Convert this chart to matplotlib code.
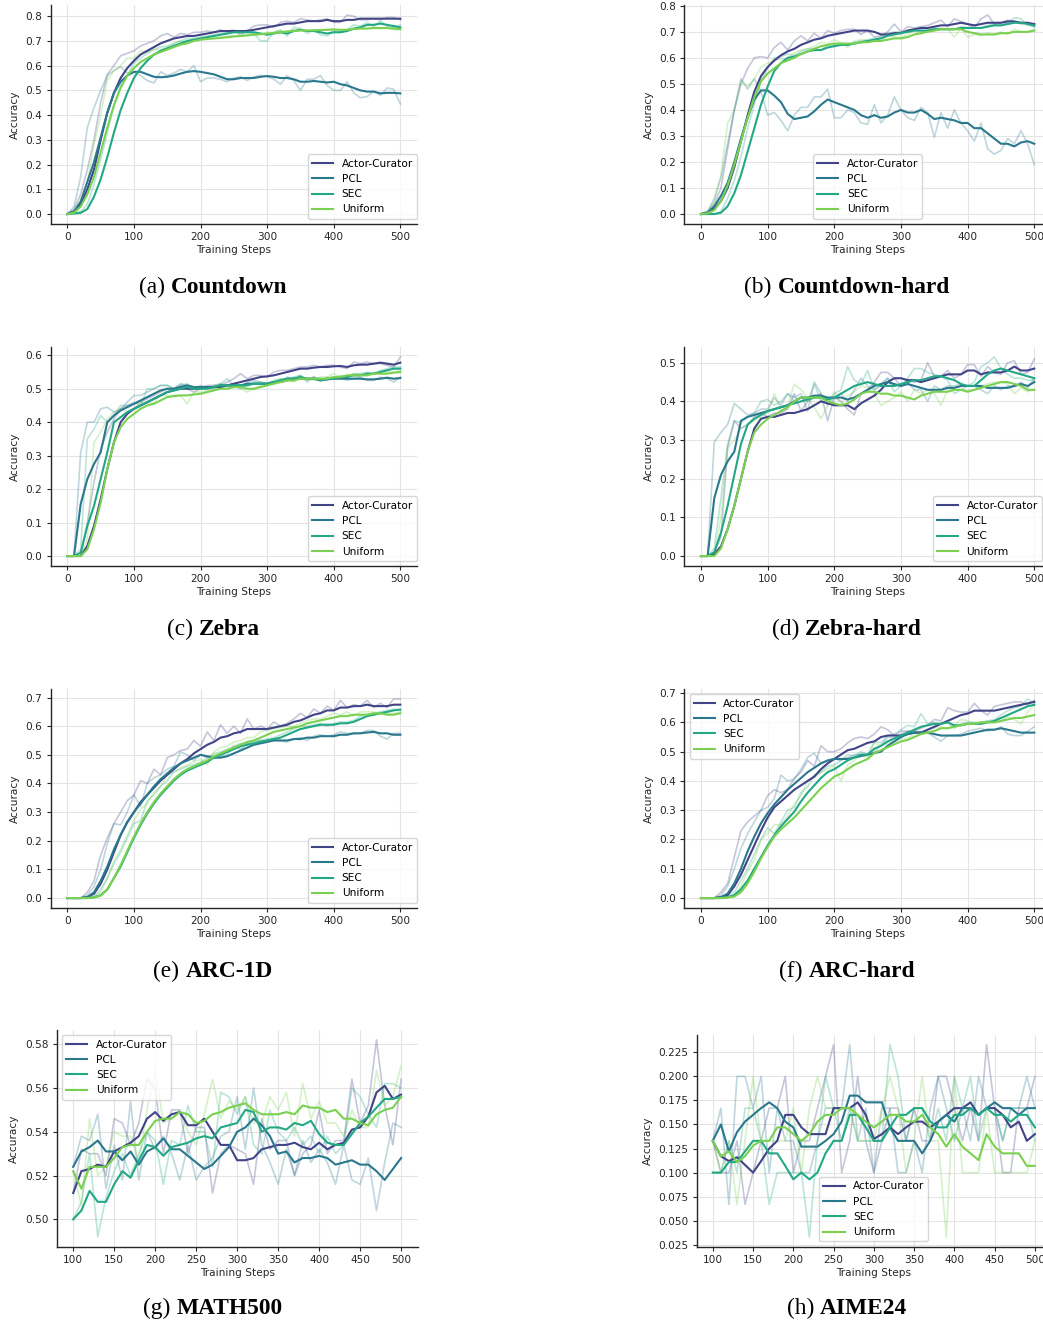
import numpy as np
import matplotlib
matplotlib.use('Agg')
import matplotlib.pyplot as plt
from matplotlib.offsetbox import TextArea, HPacker, AnchoredOffsetbox

W, H = 1043, 1321

methods = ['Actor-Curator', 'PCL', 'SEC', 'Uniform']
colors = ['#414487', '#2a788e', '#22a884', '#7ad151']

steps = np.arange(0, 501, 10)
eval_steps = np.arange(100, 501, 10)

# (a) Countdown
cd_ac_raw = [0.00, 0.02, 0.08, 0.18, 0.30, 0.45, 0.565, 0.60, 0.64, 0.65,
             0.66, 0.68, 0.69, 0.70, 0.72, 0.73, 0.715, 0.73, 0.725, 0.735,
             0.735, 0.74, 0.735, 0.745, 0.735, 0.74, 0.73, 0.74, 0.76, 0.765,
             0.765, 0.755, 0.775, 0.78, 0.775, 0.79, 0.785, 0.78, 0.785, 0.79,
             0.775, 0.775, 0.805, 0.80, 0.785, 0.785, 0.79, 0.785, 0.795, 0.795,
             0.785]
cd_ac_sm = [0.00, 0.01, 0.04, 0.10, 0.18, 0.30, 0.41, 0.49, 0.55, 0.59,
            0.62, 0.645, 0.66, 0.675, 0.69, 0.70, 0.71, 0.715, 0.72, 0.72,
            0.725, 0.73, 0.735, 0.74, 0.74, 0.74, 0.74, 0.74, 0.745, 0.75,
            0.755, 0.76, 0.765, 0.77, 0.77, 0.775, 0.78, 0.78, 0.78, 0.785,
            0.78, 0.78, 0.785, 0.785, 0.79, 0.79, 0.79, 0.79, 0.79, 0.79,
            0.79]
cd_pcl_raw = [0.00, 0.03, 0.15, 0.35, 0.43, 0.50, 0.56, 0.58, 0.595, 0.57,
              0.575, 0.56, 0.54, 0.53, 0.575, 0.56, 0.57, 0.585, 0.575, 0.60,
              0.535, 0.55, 0.55, 0.545, 0.535, 0.55, 0.555, 0.54, 0.555, 0.56,
              0.555, 0.545, 0.525, 0.56, 0.54, 0.50, 0.545, 0.545, 0.56, 0.52,
              0.50, 0.50, 0.535, 0.49, 0.47, 0.475, 0.495, 0.48, 0.51, 0.505,
              0.445]
cd_pcl_sm = [0.00, 0.01, 0.05, 0.13, 0.21, 0.31, 0.41, 0.49, 0.535, 0.56,
             0.575, 0.575, 0.565, 0.555, 0.553, 0.555, 0.56, 0.568, 0.575, 0.578,
             0.575, 0.57, 0.565, 0.555, 0.545, 0.545, 0.55, 0.55, 0.55, 0.555,
             0.558, 0.555, 0.55, 0.55, 0.545, 0.535, 0.535, 0.538, 0.535, 0.532,
             0.535, 0.525, 0.52, 0.51, 0.50, 0.495, 0.495, 0.488, 0.49, 0.49,
             0.488]
cd_sec_raw = [0.00, 0.004, 0.01, 0.04, 0.12, 0.22, 0.33, 0.44, 0.52, 0.56,
              0.61, 0.63, 0.65, 0.665, 0.675, 0.68, 0.69, 0.70, 0.71, 0.71,
              0.715, 0.72, 0.725, 0.73, 0.74, 0.745, 0.72, 0.745, 0.73, 0.70,
              0.70, 0.735, 0.745, 0.72, 0.755, 0.75, 0.73, 0.745, 0.725, 0.72,
              0.74, 0.735, 0.745, 0.765, 0.76, 0.775, 0.76, 0.78, 0.76, 0.755,
              0.765]
cd_sec_sm = [0.00, 0.002, 0.005, 0.02, 0.07, 0.14, 0.23, 0.33, 0.42, 0.49,
             0.55, 0.59, 0.62, 0.645, 0.66, 0.67, 0.68, 0.69, 0.70, 0.705,
             0.71, 0.715, 0.72, 0.725, 0.73, 0.735, 0.735, 0.735, 0.735, 0.73,
             0.725, 0.73, 0.735, 0.73, 0.74, 0.745, 0.74, 0.74, 0.735, 0.73,
             0.735, 0.735, 0.74, 0.75, 0.755, 0.765, 0.765, 0.77, 0.765, 0.76,
             0.755]
cd_uni_raw = [0.00, 0.01, 0.06, 0.13, 0.28, 0.40, 0.54, 0.58, 0.60, 0.63,
              0.63, 0.66, 0.655, 0.665, 0.665, 0.675, 0.69, 0.70, 0.695, 0.705,
              0.71, 0.71, 0.71, 0.715, 0.72, 0.72, 0.72, 0.725, 0.73, 0.73,
              0.735, 0.735, 0.74, 0.74, 0.745, 0.745, 0.74, 0.745, 0.745, 0.745,
              0.75, 0.74, 0.745, 0.75, 0.75, 0.75, 0.755, 0.75, 0.755, 0.745,
              0.745]
cd_uni_sm = [0.00, 0.005, 0.03, 0.08, 0.15, 0.25, 0.35, 0.44, 0.51, 0.56,
             0.59, 0.615, 0.63, 0.645, 0.655, 0.665, 0.675, 0.685, 0.69, 0.70,
             0.705, 0.708, 0.71, 0.712, 0.715, 0.718, 0.72, 0.722, 0.725, 0.727,
             0.73, 0.732, 0.735, 0.738, 0.74, 0.742, 0.742, 0.743, 0.744, 0.745,
             0.746, 0.745, 0.745, 0.748, 0.75, 0.75, 0.752, 0.752, 0.752, 0.75,
             0.748]

# (b) Countdown-hard
cdh_ac_raw = [0.00, 0.01, 0.04, 0.10, 0.25, 0.40, 0.50, 0.56, 0.60, 0.605,
              0.60, 0.64, 0.66, 0.63, 0.665, 0.685, 0.665, 0.695, 0.675, 0.705,
              0.695, 0.705, 0.71, 0.71, 0.69, 0.705, 0.68, 0.685, 0.70, 0.73,
              0.70, 0.72, 0.715, 0.72, 0.725, 0.735, 0.745, 0.72, 0.75, 0.74,
              0.73, 0.715, 0.75, 0.765, 0.73, 0.735, 0.745, 0.74, 0.73, 0.735,
              0.72]
cdh_ac_sm = [0.00, 0.005, 0.02, 0.05, 0.10, 0.18, 0.28, 0.38, 0.47, 0.53,
             0.565, 0.59, 0.61, 0.625, 0.635, 0.65, 0.66, 0.67, 0.675, 0.685,
             0.69, 0.695, 0.70, 0.705, 0.705, 0.705, 0.70, 0.69, 0.69, 0.695,
             0.695, 0.705, 0.71, 0.715, 0.715, 0.72, 0.725, 0.725, 0.73, 0.735,
             0.73, 0.725, 0.73, 0.735, 0.735, 0.735, 0.74, 0.74, 0.735, 0.735,
             0.73]
cdh_pcl_raw = [0.00, 0.01, 0.06, 0.14, 0.27, 0.40, 0.52, 0.48, 0.52, 0.47,
               0.38, 0.39, 0.36, 0.32, 0.38, 0.41, 0.41, 0.45, 0.45, 0.48,
               0.37, 0.37, 0.40, 0.39, 0.35, 0.345, 0.42, 0.35, 0.38, 0.45,
               0.40, 0.37, 0.36, 0.41, 0.39, 0.295, 0.39, 0.33, 0.40, 0.35,
               0.32, 0.28, 0.35, 0.25, 0.23, 0.245, 0.29, 0.27, 0.32, 0.27,
               0.19]
cdh_pcl_sm = [0.00, 0.005, 0.03, 0.07, 0.12, 0.20, 0.29, 0.37, 0.44, 0.475,
              0.475, 0.455, 0.43, 0.385, 0.365, 0.37, 0.375, 0.395, 0.42, 0.44,
              0.43, 0.42, 0.41, 0.40, 0.38, 0.37, 0.38, 0.37, 0.375, 0.39,
              0.40, 0.39, 0.39, 0.40, 0.385, 0.365, 0.37, 0.365, 0.36, 0.35,
              0.35, 0.33, 0.33, 0.31, 0.29, 0.27, 0.27, 0.26, 0.275, 0.28,
              0.27]
cdh_sec_raw = [0.00, 0.00, 0.00, 0.01, 0.06, 0.13, 0.22, 0.33, 0.42, 0.51,
               0.56, 0.60, 0.605, 0.615, 0.61, 0.625, 0.635, 0.635, 0.63, 0.65,
               0.65, 0.655, 0.65, 0.66, 0.665, 0.67, 0.675, 0.68, 0.695, 0.70,
               0.70, 0.705, 0.71, 0.70, 0.705, 0.715, 0.71, 0.71, 0.71, 0.72,
               0.715, 0.715, 0.715, 0.725, 0.73, 0.725, 0.735, 0.755, 0.75, 0.725,
               0.72]
cdh_sec_sm = [0.00, 0.00, 0.00, 0.005, 0.03, 0.08, 0.15, 0.24, 0.33, 0.42,
              0.49, 0.55, 0.58, 0.60, 0.605, 0.615, 0.625, 0.63, 0.63, 0.64,
              0.645, 0.65, 0.65, 0.655, 0.66, 0.665, 0.67, 0.675, 0.685, 0.69,
              0.695, 0.70, 0.705, 0.705, 0.705, 0.71, 0.71, 0.71, 0.71, 0.715,
              0.715, 0.715, 0.715, 0.72, 0.725, 0.725, 0.73, 0.735, 0.735, 0.73,
              0.725]
cdh_uni_raw = [0.00, 0.01, 0.05, 0.15, 0.35, 0.40, 0.51, 0.49, 0.52, 0.565,
               0.58, 0.59, 0.595, 0.60, 0.62, 0.63, 0.635, 0.645, 0.66, 0.655,
               0.67, 0.66, 0.64, 0.665, 0.67, 0.665, 0.67, 0.665, 0.685, 0.68,
               0.68, 0.69, 0.705, 0.69, 0.71, 0.71, 0.715, 0.71, 0.68, 0.715,
               0.68, 0.69, 0.685, 0.695, 0.69, 0.70, 0.69, 0.71, 0.70, 0.70,
               0.71]
cdh_uni_sm = [0.00, 0.003, 0.015, 0.05, 0.11, 0.19, 0.28, 0.37, 0.45, 0.51,
              0.54, 0.56, 0.58, 0.59, 0.60, 0.615, 0.625, 0.635, 0.645, 0.65,
              0.655, 0.655, 0.655, 0.655, 0.66, 0.66, 0.665, 0.665, 0.67, 0.675,
              0.675, 0.68, 0.69, 0.695, 0.70, 0.705, 0.71, 0.71, 0.71, 0.71,
              0.70, 0.695, 0.69, 0.69, 0.69, 0.695, 0.695, 0.70, 0.70, 0.70,
              0.705]

# (c) Zebra
zb_ac_raw = [0.00, 0.00, 0.00, 0.10, 0.22, 0.32, 0.37, 0.41, 0.44, 0.45,
             0.455, 0.46, 0.47, 0.48, 0.49, 0.50, 0.50, 0.51, 0.50, 0.49,
             0.50, 0.51, 0.51, 0.51, 0.52, 0.53, 0.545, 0.53, 0.54, 0.54,
             0.535, 0.55, 0.555, 0.555, 0.56, 0.565, 0.565, 0.57, 0.565, 0.57,
             0.57, 0.565, 0.56, 0.58, 0.575, 0.58, 0.575, 0.575, 0.57, 0.565,
             0.595]
zb_ac_sm = [0.00, 0.00, 0.00, 0.03, 0.09, 0.17, 0.26, 0.34, 0.40, 0.425,
            0.44, 0.45, 0.46, 0.47, 0.48, 0.49, 0.495, 0.50, 0.50, 0.50,
            0.50, 0.505, 0.505, 0.505, 0.51, 0.515, 0.52, 0.525, 0.53, 0.535,
            0.537, 0.54, 0.545, 0.55, 0.555, 0.56, 0.56, 0.563, 0.565, 0.565,
            0.567, 0.568, 0.565, 0.57, 0.572, 0.572, 0.575, 0.578, 0.575, 0.572,
            0.578]
zb_pcl_raw = [0.00, 0.00, 0.31, 0.40, 0.40, 0.44, 0.445, 0.43, 0.44, 0.46,
              0.48, 0.48, 0.49, 0.50, 0.51, 0.51, 0.50, 0.515, 0.51, 0.50,
              0.51, 0.505, 0.50, 0.515, 0.51, 0.51, 0.50, 0.52, 0.525, 0.52,
              0.515, 0.52, 0.52, 0.535, 0.53, 0.54, 0.525, 0.535, 0.53, 0.525,
              0.535, 0.535, 0.525, 0.53, 0.535, 0.525, 0.525, 0.535, 0.53, 0.52,
              0.535]
zb_pcl_sm = [0.00, 0.00, 0.155, 0.23, 0.275, 0.31, 0.40, 0.42, 0.435, 0.445,
             0.455, 0.465, 0.475, 0.485, 0.495, 0.50, 0.50, 0.505, 0.51, 0.505,
             0.505, 0.505, 0.505, 0.51, 0.51, 0.51, 0.51, 0.515, 0.515, 0.515,
             0.515, 0.52, 0.52, 0.525, 0.53, 0.53, 0.53, 0.53, 0.525, 0.528,
             0.53, 0.53, 0.53, 0.53, 0.53, 0.528, 0.528, 0.53, 0.533, 0.53,
             0.532]
zb_sec_raw = [0.00, 0.00, 0.02, 0.35, 0.38, 0.42, 0.40, 0.42, 0.45, 0.45,
              0.46, 0.45, 0.50, 0.50, 0.51, 0.51, 0.50, 0.51, 0.515, 0.50,
              0.505, 0.50, 0.51, 0.515, 0.53, 0.51, 0.505, 0.51, 0.52, 0.52,
              0.515, 0.525, 0.53, 0.53, 0.535, 0.54, 0.52, 0.535, 0.525, 0.535,
              0.53, 0.54, 0.535, 0.545, 0.545, 0.55, 0.545, 0.555, 0.56, 0.565,
              0.565]
zb_sec_sm = [0.00, 0.00, 0.01, 0.09, 0.15, 0.23, 0.31, 0.40, 0.415, 0.43,
             0.44, 0.45, 0.46, 0.47, 0.48, 0.49, 0.495, 0.50, 0.505, 0.50,
             0.50, 0.50, 0.505, 0.51, 0.51, 0.51, 0.51, 0.51, 0.515, 0.515,
             0.515, 0.52, 0.525, 0.53, 0.53, 0.535, 0.53, 0.53, 0.525, 0.53,
             0.53, 0.535, 0.535, 0.54, 0.54, 0.545, 0.545, 0.55, 0.555, 0.56,
             0.56]
zb_uni_raw = [0.00, 0.00, 0.00, 0.05, 0.34, 0.37, 0.41, 0.43, 0.44, 0.43,
              0.44, 0.46, 0.455, 0.46, 0.48, 0.48, 0.48, 0.48, 0.455, 0.49,
              0.49, 0.495, 0.50, 0.505, 0.50, 0.51, 0.50, 0.49, 0.50, 0.51,
              0.515, 0.52, 0.53, 0.525, 0.52, 0.535, 0.53, 0.525, 0.535, 0.535,
              0.545, 0.535, 0.54, 0.545, 0.545, 0.54, 0.55, 0.545, 0.55, 0.55,
              0.555]
zb_uni_sm = [0.00, 0.00, 0.00, 0.02, 0.08, 0.16, 0.26, 0.34, 0.385, 0.41,
             0.425, 0.44, 0.45, 0.455, 0.465, 0.475, 0.478, 0.48, 0.48, 0.483,
             0.485, 0.49, 0.495, 0.50, 0.50, 0.505, 0.505, 0.50, 0.50, 0.505,
             0.51, 0.515, 0.52, 0.525, 0.525, 0.53, 0.53, 0.53, 0.53, 0.53,
             0.535, 0.535, 0.54, 0.54, 0.54, 0.54, 0.545, 0.545, 0.545, 0.548,
             0.55]

# (d) Zebra-hard
zbh_ac_raw = [0.00, 0.00, 0.01, 0.05, 0.28, 0.35, 0.33, 0.34, 0.36, 0.37,
              0.36, 0.37, 0.37, 0.38, 0.42, 0.375, 0.40, 0.41, 0.42, 0.35,
              0.41, 0.40, 0.38, 0.365, 0.42, 0.43, 0.45, 0.475, 0.475, 0.46,
              0.44, 0.455, 0.45, 0.455, 0.50, 0.465, 0.465, 0.48, 0.46, 0.47,
              0.495, 0.495, 0.465, 0.49, 0.475, 0.47, 0.50, 0.505, 0.47, 0.475,
              0.51]
zbh_ac_sm = [0.00, 0.00, 0.005, 0.025, 0.07, 0.13, 0.20, 0.27, 0.33, 0.355,
             0.36, 0.36, 0.365, 0.37, 0.37, 0.375, 0.38, 0.39, 0.40, 0.395,
             0.39, 0.39, 0.39, 0.38, 0.395, 0.405, 0.415, 0.43, 0.45, 0.46,
             0.46, 0.455, 0.455, 0.45, 0.455, 0.46, 0.465, 0.47, 0.47, 0.47,
             0.48, 0.48, 0.47, 0.475, 0.475, 0.475, 0.48, 0.49, 0.48, 0.48,
             0.485]
zbh_pcl_raw = [0.00, 0.00, 0.295, 0.32, 0.34, 0.395, 0.38, 0.365, 0.37, 0.38,
               0.38, 0.41, 0.39, 0.42, 0.41, 0.42, 0.375, 0.45, 0.42, 0.39,
               0.41, 0.42, 0.40, 0.43, 0.46, 0.44, 0.43, 0.445, 0.46, 0.44,
               0.44, 0.45, 0.43, 0.43, 0.40, 0.44, 0.43, 0.44, 0.44, 0.445,
               0.44, 0.44, 0.43, 0.42, 0.44, 0.43, 0.44, 0.44, 0.45, 0.435,
               0.46]
zbh_pcl_sm = [0.00, 0.00, 0.15, 0.21, 0.245, 0.27, 0.35, 0.36, 0.365, 0.37,
              0.375, 0.38, 0.385, 0.39, 0.40, 0.41, 0.41, 0.415, 0.415, 0.41,
              0.41, 0.41, 0.405, 0.41, 0.42, 0.43, 0.44, 0.445, 0.45, 0.445,
              0.44, 0.445, 0.44, 0.435, 0.43, 0.43, 0.43, 0.435, 0.435, 0.44,
              0.44, 0.44, 0.44, 0.435, 0.435, 0.435, 0.435, 0.44, 0.445, 0.44,
              0.45]
zbh_sec_raw = [0.00, 0.00, 0.02, 0.15, 0.29, 0.35, 0.345, 0.36, 0.37, 0.40,
               0.405, 0.39, 0.40, 0.42, 0.40, 0.41, 0.40, 0.445, 0.40, 0.395,
               0.42, 0.43, 0.49, 0.455, 0.445, 0.48, 0.43, 0.44, 0.46, 0.425,
               0.44, 0.46, 0.485, 0.485, 0.475, 0.47, 0.465, 0.455, 0.42, 0.43,
               0.44, 0.45, 0.49, 0.50, 0.515, 0.485, 0.47, 0.46, 0.46, 0.455,
               0.455]
zbh_sec_sm = [0.00, 0.00, 0.01, 0.06, 0.13, 0.21, 0.29, 0.34, 0.355, 0.365,
              0.375, 0.38, 0.385, 0.39, 0.395, 0.40, 0.405, 0.41, 0.41, 0.405,
              0.41, 0.42, 0.43, 0.44, 0.445, 0.45, 0.445, 0.44, 0.44, 0.44,
              0.445, 0.45, 0.455, 0.455, 0.46, 0.465, 0.465, 0.46, 0.455, 0.445,
              0.44, 0.44, 0.455, 0.47, 0.48, 0.485, 0.48, 0.475, 0.47, 0.465,
              0.46]
zbh_uni_raw = [0.00, 0.00, 0.00, 0.10, 0.28, 0.30, 0.33, 0.34, 0.35, 0.36,
               0.37, 0.42, 0.375, 0.39, 0.445, 0.43, 0.41, 0.385, 0.355, 0.39,
               0.425, 0.395, 0.415, 0.425, 0.44, 0.435, 0.42, 0.39, 0.40, 0.41,
               0.425, 0.40, 0.43, 0.42, 0.43, 0.42, 0.39, 0.43, 0.43, 0.43,
               0.43, 0.43, 0.44, 0.445, 0.45, 0.45, 0.445, 0.42, 0.435, 0.425,
               0.43]
zbh_uni_sm = [0.00, 0.00, 0.00, 0.02, 0.07, 0.13, 0.20, 0.27, 0.32, 0.34,
              0.355, 0.365, 0.375, 0.385, 0.40, 0.41, 0.41, 0.41, 0.41, 0.40,
              0.395, 0.39, 0.395, 0.405, 0.42, 0.425, 0.425, 0.42, 0.42, 0.415,
              0.415, 0.41, 0.405, 0.415, 0.42, 0.425, 0.425, 0.425, 0.43, 0.43,
              0.425, 0.43, 0.435, 0.44, 0.445, 0.45, 0.45, 0.445, 0.44, 0.43,
              0.43]

# (e) ARC-1D
arc_ac_raw = [0.00, 0.00, 0.00, 0.02, 0.06, 0.15, 0.21, 0.26, 0.30, 0.34,
              0.36, 0.41, 0.40, 0.45, 0.43, 0.49, 0.50, 0.515, 0.52, 0.55,
              0.53, 0.58, 0.55, 0.605, 0.575, 0.60, 0.575, 0.625, 0.59, 0.60,
              0.59, 0.615, 0.60, 0.61, 0.625, 0.645, 0.63, 0.66, 0.645, 0.67,
              0.655, 0.69, 0.665, 0.675, 0.67, 0.69, 0.665, 0.68, 0.665, 0.695,
              0.695]
arc_ac_sm = [0.00, 0.00, 0.00, 0.003, 0.015, 0.05, 0.10, 0.16, 0.22, 0.265,
             0.30, 0.335, 0.36, 0.385, 0.41, 0.43, 0.45, 0.47, 0.485, 0.505,
             0.52, 0.535, 0.545, 0.56, 0.565, 0.575, 0.58, 0.59, 0.59, 0.59,
             0.59, 0.595, 0.60, 0.605, 0.615, 0.62, 0.63, 0.64, 0.645, 0.655,
             0.655, 0.665, 0.665, 0.67, 0.67, 0.675, 0.67, 0.67, 0.67, 0.675,
             0.675]
arc_pcl_raw = [0.00, 0.00, 0.00, 0.01, 0.04, 0.10, 0.19, 0.26, 0.255, 0.30,
               0.36, 0.32, 0.40, 0.42, 0.43, 0.45, 0.46, 0.51, 0.50, 0.48,
               0.50, 0.49, 0.49, 0.495, 0.50, 0.53, 0.52, 0.54, 0.55, 0.55,
               0.55, 0.555, 0.55, 0.545, 0.555, 0.56, 0.55, 0.565, 0.57, 0.565,
               0.57, 0.58, 0.575, 0.575, 0.575, 0.585, 0.585, 0.565, 0.555, 0.575,
               0.575]
arc_pcl_sm = [0.00, 0.00, 0.00, 0.003, 0.02, 0.06, 0.11, 0.17, 0.22, 0.265,
              0.30, 0.33, 0.36, 0.39, 0.415, 0.435, 0.455, 0.47, 0.48, 0.49,
              0.50, 0.495, 0.49, 0.49, 0.495, 0.505, 0.515, 0.525, 0.535, 0.54,
              0.545, 0.55, 0.55, 0.55, 0.555, 0.555, 0.56, 0.56, 0.565, 0.565,
              0.565, 0.57, 0.57, 0.575, 0.575, 0.578, 0.58, 0.575, 0.575, 0.57,
              0.57]
arc_sec_raw = [0.00, 0.00, 0.00, 0.00, 0.005, 0.03, 0.07, 0.12, 0.16, 0.21,
               0.26, 0.27, 0.34, 0.36, 0.39, 0.41, 0.44, 0.45, 0.46, 0.465,
               0.475, 0.49, 0.505, 0.51, 0.52, 0.53, 0.54, 0.54, 0.545, 0.55,
               0.555, 0.56, 0.57, 0.58, 0.59, 0.60, 0.60, 0.605, 0.61, 0.60,
               0.61, 0.615, 0.615, 0.62, 0.635, 0.64, 0.645, 0.65, 0.655, 0.66,
               0.655]
arc_sec_sm = [0.00, 0.00, 0.00, 0.00, 0.002, 0.01, 0.03, 0.07, 0.11, 0.16,
              0.21, 0.255, 0.295, 0.33, 0.36, 0.385, 0.41, 0.43, 0.445, 0.455,
              0.465, 0.475, 0.49, 0.50, 0.51, 0.52, 0.53, 0.535, 0.54, 0.545,
              0.55, 0.555, 0.56, 0.57, 0.58, 0.59, 0.595, 0.60, 0.605, 0.605,
              0.605, 0.61, 0.61, 0.615, 0.625, 0.635, 0.64, 0.645, 0.65, 0.655,
              0.658]
arc_uni_raw = [0.00, 0.00, 0.00, 0.00, 0.005, 0.02, 0.07, 0.13, 0.17, 0.22,
               0.27, 0.31, 0.33, 0.37, 0.39, 0.43, 0.44, 0.455, 0.465, 0.475,
               0.485, 0.465, 0.51, 0.525, 0.53, 0.545, 0.55, 0.56, 0.56, 0.58,
               0.585, 0.59, 0.595, 0.60, 0.60, 0.61, 0.62, 0.625, 0.625, 0.635,
               0.645, 0.64, 0.65, 0.635, 0.65, 0.65, 0.65, 0.64, 0.645, 0.645,
               0.65]
arc_uni_sm = [0.00, 0.00, 0.00, 0.00, 0.002, 0.008, 0.03, 0.07, 0.115, 0.165,
              0.215, 0.26, 0.30, 0.335, 0.365, 0.39, 0.415, 0.435, 0.45, 0.46,
              0.47, 0.48, 0.495, 0.505, 0.515, 0.525, 0.535, 0.545, 0.55, 0.56,
              0.57, 0.58, 0.585, 0.59, 0.595, 0.60, 0.61, 0.615, 0.62, 0.625,
              0.63, 0.635, 0.635, 0.64, 0.64, 0.64, 0.645, 0.645, 0.64, 0.64,
              0.645]

# (f) ARC-hard
arch_ac_raw = [0.00, 0.00, 0.00, 0.02, 0.05, 0.14, 0.23, 0.26, 0.28, 0.30,
               0.35, 0.37, 0.36, 0.37, 0.41, 0.43, 0.47, 0.45, 0.52, 0.50,
               0.50, 0.51, 0.53, 0.545, 0.55, 0.545, 0.56, 0.585, 0.575, 0.555,
               0.57, 0.57, 0.57, 0.58, 0.59, 0.61, 0.605, 0.65, 0.64, 0.635,
               0.635, 0.665, 0.64, 0.625, 0.655, 0.66, 0.665, 0.67, 0.67, 0.66,
               0.675]
arch_ac_sm = [0.00, 0.00, 0.00, 0.003, 0.01, 0.04, 0.08, 0.13, 0.18, 0.23,
              0.275, 0.31, 0.33, 0.35, 0.37, 0.385, 0.40, 0.415, 0.44, 0.46,
              0.475, 0.49, 0.505, 0.51, 0.52, 0.53, 0.535, 0.55, 0.555, 0.555,
              0.555, 0.56, 0.565, 0.565, 0.575, 0.585, 0.595, 0.605, 0.615, 0.625,
              0.63, 0.64, 0.64, 0.64, 0.64, 0.645, 0.65, 0.655, 0.66, 0.665,
              0.67]
arch_pcl_raw = [0.00, 0.00, 0.00, 0.01, 0.04, 0.10, 0.17, 0.22, 0.26, 0.30,
                0.31, 0.34, 0.42, 0.40, 0.405, 0.44, 0.48, 0.495, 0.46, 0.47,
                0.475, 0.47, 0.48, 0.49, 0.49, 0.49, 0.50, 0.52, 0.55, 0.545,
                0.56, 0.57, 0.57, 0.565, 0.565, 0.55, 0.535, 0.555, 0.555, 0.56,
                0.57, 0.575, 0.58, 0.57, 0.575, 0.585, 0.56, 0.555, 0.555, 0.57,
                0.585]
arch_pcl_sm = [0.00, 0.00, 0.00, 0.003, 0.015, 0.05, 0.10, 0.16, 0.21, 0.255,
               0.29, 0.32, 0.345, 0.37, 0.39, 0.41, 0.43, 0.445, 0.46, 0.47,
               0.475, 0.475, 0.475, 0.48, 0.485, 0.49, 0.495, 0.50, 0.52, 0.535,
               0.55, 0.56, 0.565, 0.565, 0.565, 0.56, 0.555, 0.555, 0.555, 0.555,
               0.56, 0.565, 0.57, 0.575, 0.575, 0.58, 0.575, 0.57, 0.565, 0.565,
               0.565]
arch_sec_raw = [0.00, 0.00, 0.00, 0.00, 0.01, 0.02, 0.06, 0.10, 0.15, 0.20,
                0.24, 0.22, 0.26, 0.30, 0.31, 0.36, 0.38, 0.42, 0.43, 0.45,
                0.455, 0.47, 0.49, 0.485, 0.50, 0.49, 0.535, 0.53, 0.555, 0.56,
                0.575, 0.59, 0.585, 0.63, 0.595, 0.60, 0.595, 0.60, 0.58, 0.595,
                0.60, 0.60, 0.60, 0.605, 0.61, 0.625, 0.64, 0.65, 0.655, 0.68,
                0.665]
arch_sec_sm = [0.00, 0.00, 0.00, 0.00, 0.003, 0.01, 0.03, 0.06, 0.10, 0.14,
               0.18, 0.215, 0.245, 0.27, 0.295, 0.33, 0.36, 0.385, 0.41, 0.43,
               0.44, 0.455, 0.47, 0.48, 0.49, 0.49, 0.51, 0.52, 0.535, 0.545,
               0.555, 0.565, 0.575, 0.585, 0.59, 0.595, 0.595, 0.60, 0.59, 0.59,
               0.595, 0.595, 0.595, 0.60, 0.605, 0.615, 0.625, 0.635, 0.645, 0.655,
               0.66]
arch_uni_raw = [0.00, 0.00, 0.00, 0.00, 0.005, 0.01, 0.04, 0.09, 0.13, 0.20,
                0.22, 0.25, 0.25, 0.28, 0.32, 0.35, 0.40, 0.41, 0.43, 0.44,
                0.45, 0.40, 0.455, 0.47, 0.49, 0.48, 0.53, 0.52, 0.53, 0.535,
                0.545, 0.545, 0.56, 0.57, 0.565, 0.58, 0.585, 0.58, 0.59, 0.61,
                0.605, 0.595, 0.60, 0.605, 0.60, 0.605, 0.62, 0.61, 0.595, 0.635,
                0.66]
arch_uni_sm = [0.00, 0.00, 0.00, 0.00, 0.002, 0.005, 0.02, 0.05, 0.09, 0.135,
               0.175, 0.21, 0.235, 0.255, 0.275, 0.30, 0.325, 0.35, 0.375, 0.395,
               0.415, 0.425, 0.44, 0.455, 0.465, 0.475, 0.495, 0.505, 0.515, 0.525,
               0.535, 0.54, 0.55, 0.56, 0.565, 0.57, 0.58, 0.58, 0.585, 0.59,
               0.595, 0.595, 0.60, 0.60, 0.60, 0.605, 0.61, 0.615, 0.615, 0.62,
               0.625]

# (g) MATH500, evaluated from step 100
m5_ac_raw = [0.512, 0.532, 0.530, 0.530, 0.520, 0.546, 0.544, 0.534, 0.544, 0.564,
             0.560, 0.530, 0.550, 0.550, 0.530, 0.542, 0.542, 0.512, 0.530, 0.534,
             0.532, 0.530, 0.516, 0.546, 0.532, 0.536, 0.536, 0.520, 0.530, 0.534,
             0.550, 0.530, 0.536, 0.536, 0.564, 0.544, 0.552, 0.582, 0.552, 0.534,
             0.564]
m5_ac_sm = [0.512, 0.522, 0.523, 0.525, 0.524, 0.531, 0.533, 0.535, 0.538, 0.546,
            0.549, 0.545, 0.548, 0.549, 0.543, 0.543, 0.546, 0.540, 0.534, 0.534,
            0.527, 0.527, 0.528, 0.532, 0.533, 0.534, 0.534, 0.535, 0.533, 0.532,
            0.535, 0.532, 0.534, 0.535, 0.541, 0.542, 0.547, 0.558, 0.561, 0.555,
            0.557]
m5_pcl_raw = [0.524, 0.538, 0.536, 0.548, 0.514, 0.534, 0.518, 0.554, 0.518, 0.540,
              0.532, 0.538, 0.530, 0.518, 0.534, 0.518, 0.524, 0.528, 0.538, 0.540,
              0.556, 0.532, 0.560, 0.534, 0.526, 0.516, 0.532, 0.520, 0.536, 0.526,
              0.532, 0.526, 0.516, 0.534, 0.518, 0.516, 0.528, 0.504, 0.526, 0.544,
              0.542]
m5_pcl_sm = [0.524, 0.531, 0.533, 0.536, 0.531, 0.531, 0.527, 0.531, 0.525, 0.531,
             0.533, 0.537, 0.532, 0.532, 0.529, 0.526, 0.523, 0.525, 0.529, 0.533,
             0.540, 0.542, 0.546, 0.543, 0.538, 0.530, 0.531, 0.526, 0.528, 0.528,
             0.529, 0.528, 0.525, 0.526, 0.527, 0.525, 0.525, 0.522, 0.518, 0.523,
             0.528]
m5_sec_raw = [0.500, 0.508, 0.530, 0.492, 0.510, 0.522, 0.530, 0.520, 0.530, 0.540,
              0.536, 0.516, 0.536, 0.534, 0.552, 0.540, 0.540, 0.524, 0.558, 0.556,
              0.548, 0.556, 0.534, 0.530, 0.550, 0.540, 0.536, 0.542, 0.534, 0.538,
              0.530, 0.538, 0.530, 0.534, 0.560, 0.556, 0.548, 0.542, 0.562, 0.562,
              0.560]
m5_sec_sm = [0.500, 0.504, 0.513, 0.508, 0.508, 0.516, 0.522, 0.519, 0.527, 0.534,
             0.533, 0.529, 0.533, 0.534, 0.535, 0.537, 0.538, 0.537, 0.542, 0.543,
             0.544, 0.550, 0.549, 0.540, 0.542, 0.542, 0.541, 0.544, 0.543, 0.545,
             0.539, 0.535, 0.534, 0.534, 0.539, 0.544, 0.547, 0.551, 0.555, 0.555,
             0.556]
m5_uni_raw = [0.522, 0.506, 0.546, 0.520, 0.524, 0.540, 0.538, 0.538, 0.526, 0.550,
              0.568, 0.544, 0.546, 0.550, 0.540, 0.534, 0.548, 0.564, 0.546, 0.554,
              0.550, 0.556, 0.544, 0.544, 0.556, 0.550, 0.558, 0.538, 0.562, 0.546,
              0.554, 0.544, 0.544, 0.538, 0.550, 0.542, 0.542, 0.568, 0.552, 0.556,
              0.570]
m5_uni_sm = [0.522, 0.514, 0.524, 0.524, 0.524, 0.528, 0.533, 0.534, 0.534, 0.540,
             0.545, 0.546, 0.546, 0.549, 0.548, 0.544, 0.545, 0.548, 0.549, 0.551,
             0.552, 0.553, 0.550, 0.548, 0.548, 0.548, 0.549, 0.548, 0.552, 0.551,
             0.551, 0.549, 0.550, 0.546, 0.546, 0.544, 0.543, 0.548, 0.550, 0.551,
             0.556]

# (h) AIME24, evaluated from step 100
ai_ac_raw = [0.133, 0.100, 0.100, 0.133, 0.067, 0.100, 0.133, 0.167, 0.167, 0.200,
             0.100, 0.133, 0.133, 0.167, 0.200, 0.233, 0.100, 0.133, 0.200, 0.133,
             0.100, 0.133, 0.167, 0.167, 0.133, 0.167, 0.133, 0.133, 0.200, 0.200,
             0.167, 0.133, 0.167, 0.133, 0.233, 0.167, 0.100, 0.100, 0.167, 0.167,
             0.200]
ai_ac_sm = [0.133, 0.117, 0.112, 0.116, 0.108, 0.100, 0.112, 0.125, 0.133, 0.160,
            0.160, 0.147, 0.140, 0.140, 0.140, 0.167, 0.167, 0.167, 0.173, 0.160,
            0.135, 0.140, 0.147, 0.140, 0.147, 0.153, 0.153, 0.147, 0.153, 0.160,
            0.167, 0.167, 0.173, 0.160, 0.167, 0.167, 0.160, 0.147, 0.153, 0.133,
            0.140]
ai_pcl_raw = [0.133, 0.167, 0.067, 0.200, 0.200, 0.167, 0.200, 0.100, 0.167, 0.133,
              0.133, 0.100, 0.100, 0.133, 0.167, 0.167, 0.167, 0.233, 0.133, 0.167,
              0.100, 0.167, 0.167, 0.100, 0.100, 0.133, 0.100, 0.167, 0.200, 0.167,
              0.133, 0.167, 0.133, 0.200, 0.167, 0.167, 0.133, 0.167, 0.167, 0.200,
              0.167]
ai_pcl_sm = [0.133, 0.150, 0.122, 0.142, 0.153, 0.160, 0.167, 0.173, 0.167, 0.153,
             0.147, 0.127, 0.127, 0.127, 0.133, 0.140, 0.153, 0.180, 0.180, 0.173,
             0.173, 0.173, 0.147, 0.133, 0.133, 0.133, 0.120, 0.133, 0.153, 0.160,
             0.153, 0.167, 0.167, 0.160, 0.167, 0.173, 0.167, 0.167, 0.160, 0.167,
             0.167]
ai_sec_raw = [0.100, 0.100, 0.133, 0.100, 0.167, 0.167, 0.133, 0.067, 0.100, 0.100,
              0.100, 0.100, 0.033, 0.133, 0.200, 0.167, 0.133, 0.167, 0.133, 0.133,
              0.133, 0.133, 0.233, 0.200, 0.133, 0.167, 0.167, 0.133, 0.167, 0.133,
              0.200, 0.167, 0.200, 0.133, 0.167, 0.167, 0.133, 0.167, 0.167, 0.167,
              0.133]
ai_sec_sm = [0.100, 0.100, 0.111, 0.111, 0.122, 0.133, 0.133, 0.120, 0.120, 0.107,
             0.093, 0.100, 0.093, 0.100, 0.120, 0.133, 0.133, 0.160, 0.160, 0.147,
             0.133, 0.133, 0.147, 0.160, 0.160, 0.167, 0.167, 0.153, 0.147, 0.147,
             0.160, 0.160, 0.167, 0.160, 0.167, 0.160, 0.160, 0.153, 0.160, 0.160,
             0.147]
ai_uni_raw = [0.133, 0.100, 0.133, 0.067, 0.133, 0.200, 0.133, 0.133, 0.133, 0.133,
              0.167, 0.100, 0.167, 0.200, 0.167, 0.167, 0.167, 0.167, 0.133, 0.133,
              0.133, 0.167, 0.200, 0.167, 0.100, 0.133, 0.200, 0.133, 0.133, 0.033,
              0.200, 0.100, 0.100, 0.100, 0.167, 0.100, 0.100, 0.100, 0.100, 0.100,
              0.133]
ai_uni_sm = [0.133, 0.117, 0.122, 0.111, 0.117, 0.128, 0.133, 0.133, 0.147, 0.147,
             0.140, 0.133, 0.140, 0.153, 0.160, 0.160, 0.167, 0.167, 0.160, 0.153,
             0.147, 0.153, 0.160, 0.160, 0.153, 0.153, 0.160, 0.147, 0.140, 0.127,
             0.140, 0.127, 0.120, 0.113, 0.140, 0.127, 0.120, 0.120, 0.120, 0.107,
             0.107]

# tag, title, x, raw curves, smoothed curves, axes box in px (l, t, r, b),
# legend loc + anchor, yticks, xticks, caption centre in px
panels = [
    ('(a)', 'Countdown', steps,
     [cd_ac_raw, cd_pcl_raw, cd_sec_raw, cd_uni_raw],
     [cd_ac_sm, cd_pcl_sm, cd_sec_sm, cd_uni_sm],
     (50.7, 5, 417, 224), 'lower right', (1.015, 0.0),
     np.arange(0, 0.81, 0.1), np.arange(0, 501, 100), (213, 287)),
    ('(b)', 'Countdown-hard', steps,
     [cdh_ac_raw, cdh_pcl_raw, cdh_sec_raw, cdh_uni_raw],
     [cdh_ac_sm, cdh_pcl_sm, cdh_sec_sm, cdh_uni_sm],
     (684.3, 5, 1051, 224), 'lower center', None,
     np.arange(0, 0.81, 0.1), np.arange(0, 501, 100), (847, 287)),
    ('(c)', 'Zebra', steps,
     [zb_ac_raw, zb_pcl_raw, zb_sec_raw, zb_uni_raw],
     [zb_ac_sm, zb_pcl_sm, zb_sec_sm, zb_uni_sm],
     (50.7, 347, 417, 566), 'lower right', (1.015, 0.0),
     np.arange(0, 0.61, 0.1), np.arange(0, 501, 100), (213, 629)),
    ('(d)', 'Zebra-hard', steps,
     [zbh_ac_raw, zbh_pcl_raw, zbh_sec_raw, zbh_uni_raw],
     [zbh_ac_sm, zbh_pcl_sm, zbh_sec_sm, zbh_uni_sm],
     (684.3, 347, 1051, 566), 'lower right', (0.99, 0.0),
     np.arange(0, 0.51, 0.1), np.arange(0, 501, 100), (847, 629)),
    ('(e)', 'ARC-1D', steps,
     [arc_ac_raw, arc_pcl_raw, arc_sec_raw, arc_uni_raw],
     [arc_ac_sm, arc_pcl_sm, arc_sec_sm, arc_uni_sm],
     (50.7, 689, 417, 908), 'lower right', (1.015, 0.0),
     np.arange(0, 0.71, 0.1), np.arange(0, 501, 100), (213, 971)),
    ('(f)', 'ARC-hard', steps,
     [arch_ac_raw, arch_pcl_raw, arch_sec_raw, arch_uni_raw],
     [arch_ac_sm, arch_pcl_sm, arch_sec_sm, arch_uni_sm],
     (684.3, 689, 1051, 908), 'upper left', None,
     np.arange(0, 0.71, 0.1), np.arange(0, 501, 100), (847, 971)),
    ('(g)', 'MATH500', eval_steps,
     [m5_ac_raw, m5_pcl_raw, m5_sec_raw, m5_uni_raw],
     [m5_ac_sm, m5_pcl_sm, m5_sec_sm, m5_uni_sm],
     (56.8, 1030, 417.5, 1246.7), 'upper left', None,
     np.arange(0.50, 0.581, 0.02), np.arange(100, 501, 50), (213, 1308)),
    ('(h)', 'AIME24', eval_steps,
     [ai_ac_raw, ai_pcl_raw, ai_sec_raw, ai_uni_raw],
     [ai_ac_sm, ai_pcl_sm, ai_sec_sm, ai_uni_sm],
     (696.7, 1035, 1051, 1246.7), 'lower center', None,
     np.arange(0.025, 0.226, 0.025), np.arange(100, 501, 50), (847, 1308)),
]

small = 7.6
ink = '#262626'

fig = plt.figure(figsize=(W / 100, H / 100), dpi=100)

for tag, title, x, raws, smooths, box, loc, anchor, yt, xt, cap in panels:
    l, t, r, b = box
    ax = fig.add_axes([l / W, 1 - b / H, (r - l) / W, (b - t) / H])

    for raw, col in zip(raws, colors):
        ax.plot(x, raw, color=col, alpha=0.3, linewidth=1.2)
    for sm, col, name in zip(smooths, colors, methods):
        ax.plot(x, sm, color=col, linewidth=1.5, label=name)

    ax.set_yticks(yt)
    ax.set_xticks(xt)
    ax.grid(True, color='#e4e4e4', linewidth=0.8)
    ax.set_axisbelow(True)
    for s in ['top', 'right']:
        ax.spines[s].set_visible(False)
    for s in ['left', 'bottom']:
        ax.spines[s].set_color(ink)
        ax.spines[s].set_linewidth(1.0)
    ax.tick_params(labelsize=small, length=3, width=0.8, pad=3, colors=ink)
    ax.set_xlabel('Training Steps', fontsize=small, color=ink, labelpad=2)
    ax.set_ylabel('Accuracy', fontsize=small, color=ink, labelpad=4)

    if anchor is not None:
        ax.legend(loc=loc, fontsize=small, bbox_to_anchor=anchor, framealpha=0.8, edgecolor='#cccccc')
    else:
        ax.legend(loc=loc, fontsize=small, framealpha=0.8, edgecolor='#cccccc')

    # caption below each panel: "(a)" regular, dataset name bold
    cap_font = dict(family='Liberation Serif', size=16.8, color='black')
    t1 = TextArea(tag, textprops=cap_font)
    t2 = TextArea(title, textprops=dict(weight='bold', **cap_font))
    row = HPacker(children=[t1, t2], align='baseline', pad=0, sep=4.2)
    anchored = AnchoredOffsetbox(loc='center', child=row, frameon=False, pad=0, borderpad=0,
                                 bbox_to_anchor=(cap[0] / W, 1 - cap[1] / H),
                                 bbox_transform=fig.transFigure)
    fig.add_artist(anchored)

fig.savefig('out.png', dpi=100)
